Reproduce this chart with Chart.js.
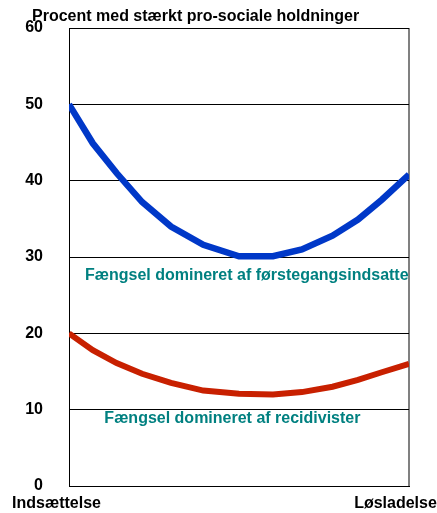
<!DOCTYPE html>
<html>
<head>
<meta charset="utf-8">
<script src="https://cdn.jsdelivr.net/npm/chart.js@4/dist/chart.umd.min.js"></script>
<style>
  html, body { margin: 0; padding: 0; background: #fff; }
  canvas { display: block; }
</style>
</head>
<body>
<canvas id="chart" width="437" height="513"></canvas>
<script>
// Daten
const tidspunkt = [0, 7, 14, 21.5, 30, 39.5, 50, 60, 68.5, 77.5, 85, 92, 100];
const foerstegang = [50, 44.9, 41.0, 37.2, 34.0, 31.6, 30.1, 30.1, 31.0, 32.8, 34.9, 37.5, 40.8];
const recidivister = [20, 17.8, 16.1, 14.7, 13.5, 12.5, 12.1, 12.0, 12.3, 13.0, 13.9, 14.9, 16.0];
const yTicks = [0, 10, 20, 30, 40, 50, 60];
const xLabels = ['Indsættelse', 'Løsladelse'];
const noteLabels = ['Fængsel domineret af førstegangsindsatte', 'Fængsel domineret af recidivister'];
const titel = 'Procent med stærkt pro-sociale holdninger';

const FONT = 'bold 16px "Liberation Sans", Arial, sans-serif';
const TEAL = '#008080';

// Tekster: titel, x-labels og kurvenoter
const tekstPlugin = {
  id: 'tekster',
  afterDraw(chart) {
    const { ctx, scales: { x, y } } = chart;
    ctx.save();
    ctx.font = FONT;
    ctx.textBaseline = 'alphabetic';
    ctx.textAlign = 'left';
    ctx.fillStyle = '#000';
    ctx.fillText(titel, 32, 21);

    // x-labels ved start og slut
    ctx.textAlign = 'center';
    ctx.fillText(xLabels[0], x.getPixelForValue(0) - 12.5, 508);
    ctx.fillText(xLabels[1], x.getPixelForValue(100) - 13.5, 508);

    // noter ved kurverne
    ctx.textAlign = 'left';
    ctx.fillStyle = TEAL;
    ctx.fillText(noteLabels[0], x.getPixelForValue(4.7), y.getPixelForValue(27.0));
    ctx.fillText(noteLabels[1], x.getPixelForValue(10.4), y.getPixelForValue(8.2));
    ctx.restore();
  }
};

const ctx = document.getElementById('chart').getContext('2d');
new Chart(ctx, {
  type: 'line',
  data: {
    datasets: [
      {
        label: noteLabels[0],
        data: tidspunkt.map((t, i) => ({ x: t, y: foerstegang[i] })),
        borderColor: '#0038C8',
        borderWidth: 6.5,
        pointRadius: 0,
        tension: 0,
        fill: false
      },
      {
        label: noteLabels[1],
        data: tidspunkt.map((t, i) => ({ x: t, y: recidivister[i] })),
        borderColor: '#C82000',
        borderWidth: 6,
        pointRadius: 0,
        tension: 0,
        fill: false
      }
    ]
  },
  options: {
    responsive: false,
    animation: false,
    layout: { padding: { left: 0, top: 28, right: 28, bottom: 27 } },
    plugins: {
      legend: { display: false },
      tooltip: { enabled: false },
      title: { display: false }
    },
    scales: {
      x: {
        type: 'linear',
        min: 0,
        max: 100,
        ticks: { display: false, stepSize: 100 },
        grid: {
          drawTicks: false,
          color: c => (c.tick && c.tick.value === 100 ? '#808080' : '#000'),
          lineWidth: c => (c.tick && c.tick.value === 100 ? 2 : 1)
        },
        border: { display: true, color: '#000', width: 1 },
        afterFit: s => { s.height = 0; }
      },
      y: {
        min: 0,
        max: 60,
        afterBuildTicks: s => { s.ticks = yTicks.map(v => ({ value: v })); },
        ticks: {
          color: '#000',
          font: { family: '"Liberation Sans", Arial, sans-serif', size: 16, weight: 'bold' },
          padding: 26
        },
        grid: { drawTicks: false, color: '#000', lineWidth: 1 },
        border: { display: true, color: '#000', width: 1 },
        // tick-padding må ikke skubbe plotområdet ned/op
        afterFit: s => { s.width = 69; s.paddingTop = 0; s.paddingBottom = 0; }
      }
    }
  },
  plugins: [tekstPlugin]
});
</script>
</body>
</html>
